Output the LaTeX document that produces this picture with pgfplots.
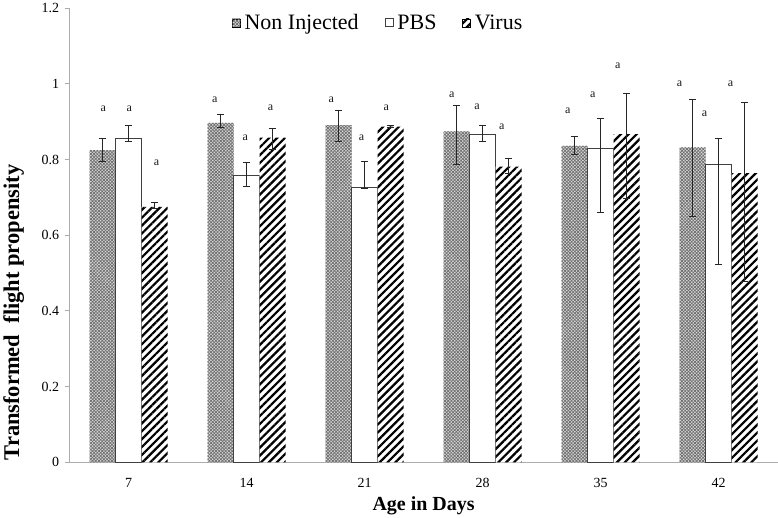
\documentclass[border=0pt]{standalone}
\usepackage{pgfplots}
\pgfplotsset{compat=1.18}
\usepackage{pgfplotstable}
\usepackage{fontspec}
\setmainfont{Liberation Serif}
\usetikzlibrary{patterns,patterns.meta}

% x = group index (0..5 -> day 7..42), y = bar height, ep/em = error up/down
\pgfplotstableread{
x y ep em
0 0.825 0.031 0.031
1 0.897 0.021 0.013
2 0.891 0.039 0.044
3 0.874 0.069 0.086
4 0.836 0.026 0.022
5 0.832 0.127 0.183
}\noninj
\pgfplotstableread{
x y ep em
0 0.855 0.036 0.008
1 0.757 0.035 0.028
2 0.726 0.069 0.002
3 0.867 0.022 0.020
4 0.829 0.079 0.169
5 0.786 0.070 0.264
}\pbs
\pgfplotstableread{
x y ep em
0 0.675 0.011 0.003
1 0.858 0.024 0.031
2 0.887 0.003 0.003
3 0.781 0.022 0.017
4 0.867 0.107 0.170
5 0.764 0.186 0.286
}\virus

\pgfplotsset{
  errs/.style={
    error bars/.cd, y dir=both, y explicit,
    error bar style={gray!30!black, line width=0.8pt},
    error mark options={rotate=90, gray!30!black, mark size=3.2pt, line width=0.8pt}
  }
}

\begin{document}
\begin{tikzpicture}
\begin{axis}[
  scale only axis,
  width=709pt, height=455pt,
  ybar, bar width=0.22,
  xmin=-0.5, xmax=5.5,
  ymin=0, ymax=1.2,
  xtick={0,1,2,3,4,5},
  xticklabels={7,14,21,28,35,42},
  ytick={0,0.2,0.4,0.6,0.8,1,1.2},
  yticklabels={0,0.2,0.4,0.6,0.8,1,1.2},
  axis lines=left,
  axis line style={gray!65, -, line width=0.9pt},
  xtick style={draw=none},
  ytick style={gray!65, line width=0.9pt},
  tick align=outside,
  major tick length=5pt,
  tick label style={font=\fontsize{14}{16}\selectfont},
  xticklabel style={yshift=-7pt},
  yticklabel style={xshift=-2pt},
  xlabel={\textbf{Age in Days}},
  ylabel={\textbf{Transformed\ \ flight propensity}},
  every axis x label/.style={at={(rel axis cs:0.5,0)}, anchor=center, yshift=-43pt,
    font=\fontsize{20}{22}\selectfont},
  every axis y label/.style={at={(rel axis cs:0,0.33)}, xshift=-56pt, rotate=90, anchor=center,
    font=\fontsize{22.5}{24}\selectfont},
  legend style={at={(0.436,0.995)}, anchor=north, draw=none, fill=none,
    legend columns=-1, font=\fontsize{22}{25}\selectfont,
    /tikz/every even column/.append style={column sep=24pt},
    /tikz/every odd column/.append style={column sep=2pt}},
  legend image code/.code={\draw[#1] (0pt,-4pt) rectangle (8pt,4pt);},
  clip=false
]

\addplot[bar shift=-0.22, draw=none, fill=gray!30,
  postaction={pattern={Lines[angle=45, distance=2.3pt, line width=0.7pt]}, pattern color=gray!85!black},
  postaction={pattern={Lines[angle=-45, distance=2.3pt, line width=0.7pt]}, pattern color=gray!85!black},
  errs]
  table[x=x, y=y, y error plus=ep, y error minus=em] {\noninj};
\addlegendentry{Non Injected}

\addplot[bar shift=0, draw=gray!50!black, line width=0.8pt, fill=white, errs]
  table[x=x, y=y, y error plus=ep, y error minus=em] {\pbs};
\addlegendentry{PBS}

\addplot[bar shift=0.22, draw=none, fill=white,
  postaction={pattern={Lines[angle=45, distance=5.6pt, line width=2.2pt]}, pattern color=black},
  errs]
  table[x=x, y=y, y error plus=ep, y error minus=em] {\virus};
\addlegendentry{Virus}

% significance letters (placed as invisible zero-shift bars with labels on top)
\addplot[bar shift=0, draw=none, fill=none, forget plot, nodes near coords={a},
  every node near coord/.append style={font=\fontsize{12}{13}\selectfont, inner sep=0pt, text=gray!20!black}]
  coordinates {
  (-0.215,0.927) (0.005,0.927) (0.236,0.784)
  (0.730,0.950) (0.989,0.850) (1.203,0.929)
  (1.717,0.950) (1.975,0.850) (2.183,0.929)
  (2.739,0.963) (2.953,0.932) (3.162,0.879)
  (3.723,0.921) (3.934,0.963) (4.146,1.040)
  (4.670,0.992) (4.882,0.914) (5.102,0.992)
  };

\end{axis}
\end{tikzpicture}
\end{document}
